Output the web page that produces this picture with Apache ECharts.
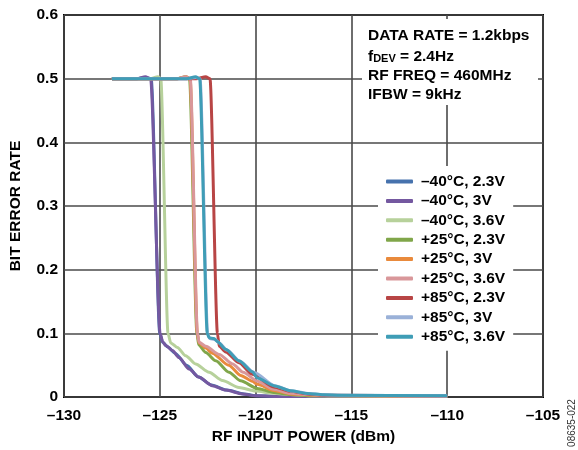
<!DOCTYPE html>
<html>
<head>
<meta charset="utf-8">
<script src="https://cdn.jsdelivr.net/npm/echarts@6/dist/echarts.min.js"></script>
<style>
html,body{margin:0;padding:0;background:#fff;}
#chart{width:578px;height:450px;}
</style>
</head>
<body>
<div id="chart"></div>
<script>
// ---- data (RF input power dBm, bit error rate) ----
var seriesNames = ['\u201340\u00b0C, 2.3V','\u201340\u00b0C, 3V','\u201340\u00b0C, 3.6V','+25\u00b0C, 2.3V','+25\u00b0C, 3V','+25\u00b0C, 3.6V','+85\u00b0C, 2.3V','+85\u00b0C, 3V','+85\u00b0C, 3.6V'];
var seriesColors = ['#4672ad','#7458a0','#b7d19b','#80a64a','#e98a3c','#d9979a','#b84545','#9ab1d8','#3f9db6'];

var m40_23 = [[-127.5,0.5],[-126.2,0.5],[-125.7,0.502],[-125.45,0.5],[-125.0,0.1],[-124.85,0.086],[-124.6,0.079],[-124.2,0.069],[-123.6,0.05],[-123.0,0.032],[-122.3,0.019],[-121.5,0.011],[-120.6,0.005],[-119.9,0.002],[-118.4,0.001],[-110,0.001]];
var m40_30 = [[-127.5,0.5],[-126.2,0.5],[-125.75,0.503],[-125.48,0.5],[-124.98,0.1],[-124.85,0.087],[-124.69,0.081],[-124.34,0.073],[-124.0,0.062],[-123.47,0.044],[-122.95,0.031],[-122.26,0.018],[-121.56,0.011],[-120.7,0.005],[-120.0,0.002],[-118.5,0.001],[-110,0.001]];
var m40_36 = [[-127.5,0.5],[-125.5,0.5],[-125.1,0.503],[-124.95,0.5],[-124.57,0.1],[-124.43,0.085],[-124.08,0.078],[-123.65,0.065],[-123.13,0.052],[-122.43,0.039],[-121.73,0.026],[-120.87,0.015],[-120.0,0.0095],[-119.06,0.006],[-118.2,0.004],[-117,0.002],[-110,0.001]];
var p25_23 = [[-127.5,0.5],[-124.1,0.5],[-123.65,0.503],[-123.45,0.5],[-123.06,0.1],[-122.97,0.082],[-122.6,0.07],[-122.08,0.057],[-121.39,0.039],[-120.78,0.0256],[-119.91,0.0136],[-119.05,0.0073],[-118.18,0.004],[-117,0.002],[-110,0.001]];
var p25_30 = [[-127.5,0.5],[-124.1,0.5],[-123.62,0.503],[-123.42,0.5],[-123.04,0.1],[-122.95,0.085],[-122.6,0.077],[-122.26,0.069],[-121.4,0.05],[-120.78,0.034],[-120.17,0.025],[-119.91,0.02],[-119.05,0.0105],[-118.18,0.005],[-117,0.003],[-110,0.001]];
var p25_36 = [[-127.5,0.5],[-124.1,0.5],[-123.65,0.503],[-123.41,0.5],[-123.03,0.1],[-122.95,0.086],[-122.6,0.08],[-121.9,0.067],[-121.2,0.052],[-120.65,0.039],[-119.91,0.025],[-119.06,0.0125],[-118.18,0.006],[-117.3,0.004],[-116,0.002],[-110,0.001]];
var p85_23 = [[-127.5,0.5],[-123.1,0.5],[-122.6,0.503],[-122.38,0.5],[-121.99,0.1],[-121.9,0.08],[-121.56,0.071],[-120.87,0.054],[-120.17,0.036],[-119.05,0.016],[-118.18,0.009],[-117.3,0.005],[-116.5,0.003],[-110,0.002]];
var p85_30 = [[-127.5,0.5],[-123.6,0.5],[-123.1,0.502],[-122.9,0.5],[-122.5,0.1],[-122.4,0.092],[-122.1,0.09],[-121.9,0.085],[-121.5,0.074],[-120.8,0.056],[-120.1,0.039],[-119.0,0.018],[-118.1,0.0095],[-117.2,0.0055],[-116.4,0.0035],[-115.5,0.003],[-110,0.002]];
var p85_36 = [[-127.5,0.5],[-123.6,0.5],[-123.13,0.503],[-122.92,0.5],[-122.52,0.1],[-122.43,0.093],[-122.17,0.092],[-121.99,0.087],[-121.56,0.075],[-120.87,0.057],[-120.17,0.04],[-119.91,0.03],[-119.05,0.018],[-118.18,0.0099],[-117.31,0.0058],[-116.46,0.0036],[-115.57,0.003],[-110,0.002]];

var xTicks = [-130,-125,-120,-115,-110,-105];
var yTicks = [0,0.1,0.2,0.3,0.4,0.5,0.6];
var xTickLabels = ['\u2013130','\u2013125','\u2013120','\u2013115','\u2013110','\u2013105'];
var yTickLabels = ['0','0.1','0.2','0.3','0.4','0.5','0.6'];
var noteLines = ['DATA RATE = 1.2kbps','{m|f}{s|DEV}{m| = 2.4Hz}','RF FREQ = 460MHz','IFBW = 9kHz'];

var allData = [m40_23,m40_30,m40_36,p25_23,p25_30,p25_36,p85_23,p85_30,p85_36];
var FONT = "'Liberation Sans', Arial, Helvetica, sans-serif";

var chart = echarts.init(document.getElementById('chart'), null, {renderer:'canvas'});

var series = allData.map(function(d,i){
  return {
    name: seriesNames[i],
    type: 'line',
    data: d,
    symbol: 'none',
    smooth: 0.25,
    smoothMonotone: 'x',
    lineStyle: {width: 3, color: seriesColors[i]},
    itemStyle: {color: seriesColors[i]},
    emphasis: {disabled: true},
    animation: false
  };
});

function lookup(ticks, labels, v){
  for (var i=0;i<ticks.length;i++){ if (Math.abs(ticks[i]-v) < 1e-6) return labels[i]; }
  return '';
}

var noteGraphics = [{
  type: 'rect', z: 50,
  shape: {x: 362, y: 19, width: 176, height: 86},
  style: {fill: '#fff'}
}];
var noteY = [35.5, 55.5, 75.5, 95];
noteLines.forEach(function(t, i){
  noteGraphics.push({
    type: 'text', z: 51, x: 368, y: noteY[i],
    style: {
      text: t,
      font: 'bold 15.5px ' + FONT,
      fill: '#000',
      textAlign: 'left',
      textVerticalAlign: 'middle',
      rich: {
        m: {fontSize: 15.5, fontWeight: 'bold', fontFamily: FONT, fill: '#000', lineHeight: 18, verticalAlign: 'bottom'},
        s: {fontSize: 11, fontWeight: 'bold', fontFamily: FONT, fill: '#000', lineHeight: 11, verticalAlign: 'bottom'}
      }
    }
  });
});
noteGraphics.push({
  type: 'text', z: 51, x: 572, y: 423, rotation: Math.PI/2,
  style: {text: '08635-022', font: '10px ' + FONT, fill: '#333', textAlign: 'center', textVerticalAlign: 'middle'}
});

chart.setOption({
  animation: false,
  backgroundColor: '#fff',
  grid: {left: 63, top: 15, right: 35, bottom: 52, show: true, borderColor: '#000', borderWidth: 2, backgroundColor: 'transparent'},
  xAxis: {
    type: 'value', min: xTicks[0], max: xTicks[xTicks.length-1], interval: 5,
    name: 'RF INPUT POWER (dBm)', nameLocation: 'middle', nameGap: 31,
    nameTextStyle: {fontFamily: FONT, fontWeight: 'bold', fontSize: 15.5, color: '#000'},
    axisLine: {show: false}, axisTick: {show: false},
    axisLabel: {margin: 11, fontFamily: FONT, fontWeight: 'bold', fontSize: 15.5, color: '#000',
      formatter: function(v){ return lookup(xTicks, xTickLabels, v); }},
    splitLine: {show: true, lineStyle: {color: '#4a4a4a', width: 1.6}}
  },
  yAxis: {
    type: 'value', min: yTicks[0], max: yTicks[yTicks.length-1], interval: 0.1,
    name: 'BIT ERROR RATE', nameLocation: 'middle', nameGap: 40,
    nameTextStyle: {fontFamily: FONT, fontWeight: 'bold', fontSize: 15.5, color: '#000'},
    axisLine: {show: false}, axisTick: {show: false},
    axisLabel: {margin: 6, fontFamily: FONT, fontWeight: 'bold', fontSize: 15.5, color: '#000',
      formatter: function(v){ return lookup(yTicks, yTickLabels, v); }},
    splitLine: {show: true, lineStyle: {color: '#4a4a4a', width: 1.6}}
  },
  legend: {
    orient: 'vertical', left: 378, top: 166,
    padding: [7.5, 8, 6, 8],
    backgroundColor: '#fff',
    itemWidth: 27, itemHeight: 4, itemGap: 3.4,
    icon: 'roundRect',
    data: seriesNames,
    textStyle: {fontFamily: FONT, fontWeight: 'bold', fontSize: 15.5, color: '#000', lineHeight: 15, padding: [0,0,0,3]},
    selectedMode: false,
    z: 20
  },
  graphic: noteGraphics,
  series: series
});
</script>
</body>
</html>
